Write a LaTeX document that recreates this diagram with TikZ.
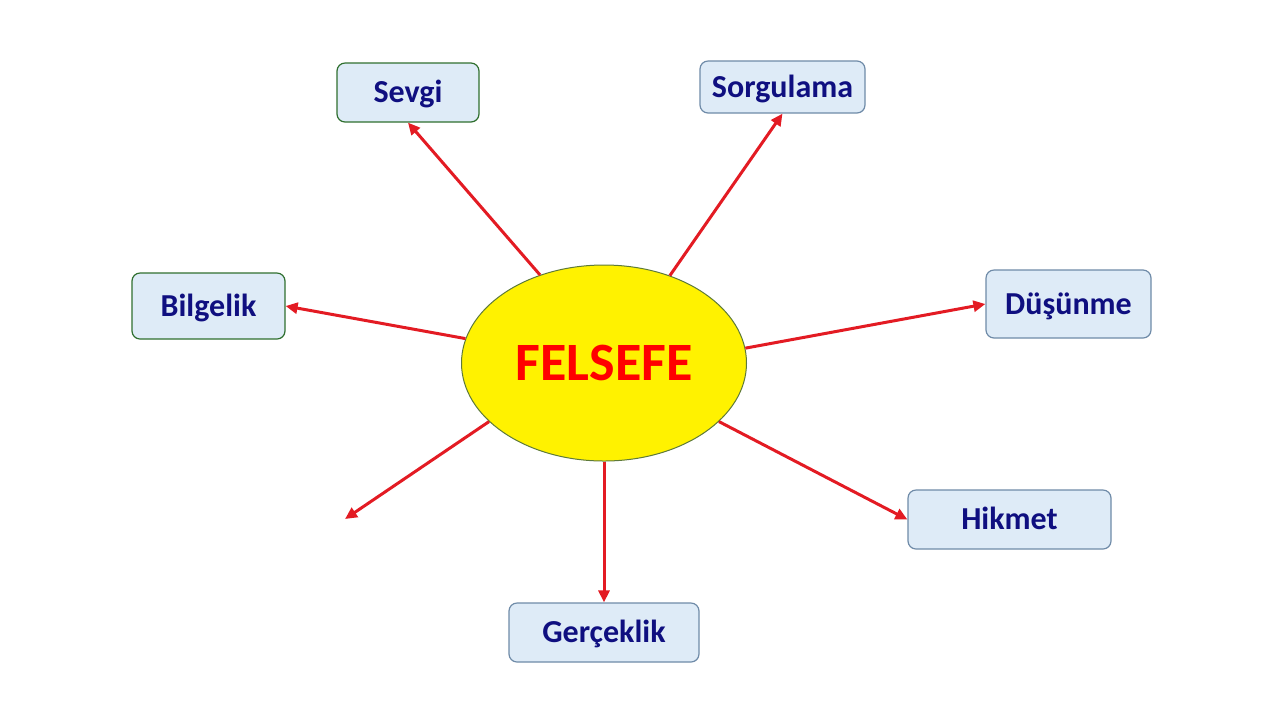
\documentclass[tikz,border=0pt]{standalone}
\usepackage{fontspec}
\setmainfont{Carlito}
\usepackage{tikz}
\usetikzlibrary{shapes.geometric}
\usetikzlibrary{arrows.meta}
\usepackage{xcolor}
\definecolor{boxfill}{HTML}{DEEBF7}
\definecolor{boxblue}{HTML}{6F8BA8}
\definecolor{boxgreen}{HTML}{2F6F2F}
\definecolor{navytext}{HTML}{0F0F80}
\definecolor{arrowred}{HTML}{E31B23}
\definecolor{rimgreen}{HTML}{5E7A3A}

\begin{document}
\begin{tikzpicture}[x=0.5pt,y=-0.5pt,
	kutu/.style={draw=boxblue,fill=boxfill,rounded corners=4pt,line width=0.6pt,
		text=navytext,font=\fontsize{16}{19}\selectfont\bfseries,inner sep=0pt,
		text height=12pt,text depth=1.7pt},
	yesilkutu/.style={kutu,draw=boxgreen},
	ok/.style={draw=arrowred,line width=1.5pt,-{Triangle[length=6pt,width=5.5pt]}}]
	\useasboundingbox (0,0) rectangle (1280,720);
	
	\node[ellipse,draw=rimgreen,fill=yellow,line width=0.5pt,inner sep=0pt,
	minimum width=142.5pt,minimum height=98pt,text=red,
	font=\fontsize{27}{30}\selectfont\bfseries] at (604,363) (F) {FELSEFE};
	
	\node[yesilkutu,minimum width=71pt,minimum height=29.5pt] at (408,92.5) (sevgi) {Sevgi};
	\node[kutu,minimum width=82.5pt,minimum height=26pt] at (782.5,87) (sorgu) {Sorgulama};
	\node[yesilkutu,minimum width=76.5pt,minimum height=33pt] at (208.5,306) (bilge) {Bilgelik};
	\node[kutu,minimum width=82.5pt,minimum height=34pt] at (1068.5,304) (dusun) {Düşünme};
	\node[kutu,minimum width=101.5pt,minimum height=29.5pt] at (1009.5,519.5) (hikmet) {Hikmet};
	\node[kutu,minimum width=95pt,minimum height=29.5pt] at (604,632.5) (gercek) {Gerçeklik};
	\coordinate (bos) at (345,519);
	
	\draw[ok] (F.126) -- (sevgi.south);
	\draw[ok] (F.53.6) -- (sorgu.south);
	\draw[ok] (F.170) -- (bilge.east);
	\draw[ok] (F.6) -- (dusun.west);
	\draw[ok] (F.-27.3) -- (hikmet.west);
	\draw[ok] (F.south) -- (gercek.north);
	\draw[ok] (F.207) -- (bos);
\end{tikzpicture}
\end{document}
